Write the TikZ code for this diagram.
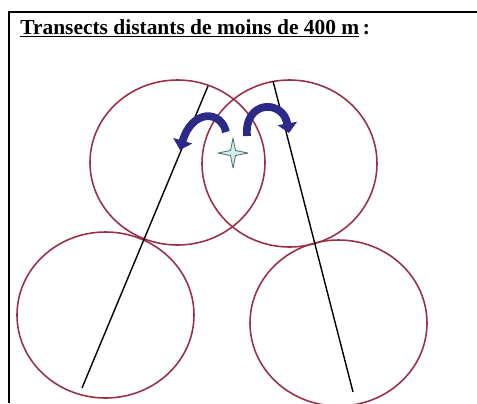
\documentclass[tikz,border=0pt]{standalone}
\usepackage{fontspec}
\setmainfont{Liberation Serif}
\usetikzlibrary{arrows.meta}
\definecolor{colzone}{HTML}{9A3048}
\definecolor{colturn}{HTML}{2C2A88}
\definecolor{colspot}{HTML}{D4F0EE}
\definecolor{colspotline}{HTML}{4F7478}

\begin{document}
\begin{tikzpicture}[
  x=0.02cm,y=-0.02cm,
  zone/.style={draw=colzone,line width=0.9pt},
  transect/.style={draw=black,line width=0.8pt},
  turn/.style={draw=colturn,line width=4.4pt,-{Triangle[length=5.5pt,width=11pt]}},
  spot/.style={draw=colspotline,fill=colspot,line width=0.5pt,line join=round},
  frame/.style={line width=1.2pt},
]
  \useasboundingbox (0,0) rectangle (477,403);
  % ---------------- cadre ----------------
  \draw[frame] (9,403) -- (9,12) -- (477,12);
  \node[anchor=base west,inner sep=0pt,font=\fontsize{12.2}{14}\selectfont\bfseries] (titre)
    at (20,34) {\underline{Transects distants de moins de 400 m}\,:};
  % ---------------- cercles ----------------
  \coordinate (c1) at (177.5,162.5);
  \coordinate (c2) at (289.5,163.5);
  \coordinate (c3) at (105.5,315);
  \coordinate (c4) at (338.5,323);
  \draw[zone] (c1) circle[x radius=87.5,y radius=82.5];
  \draw[zone] (c2) circle[x radius=87.5,y radius=83.5];
  \draw[zone] (c3) circle[x radius=88.5,y radius=83];
  \draw[zone] (c4) circle[x radius=88.5,y radius=83];
  % ---------------- transects ----------------
  \coordinate (t1a) at (208,86);  \coordinate (t1b) at (82,388);
  \coordinate (t2a) at (273,81);  \coordinate (t2b) at (353,392);
  \draw[transect] (t1a) -- (t1b);
  \draw[transect] (t2a) -- (t2b);
  % ---------------- demi-tours ----------------
  \coordinate (g1) at (226,132); \coordinate (g2) at (180,150);
  \draw[turn] (g1) .. controls (221,110) and (192,109) .. (g2);
  \coordinate (d1) at (247,136); \coordinate (d2) at (289,133);
  \draw[turn] (d1) .. controls (244,100) and (283,99) .. (d2);
  % ---------------- point ----------------
  \coordinate (pt) at (233,153);
  \draw[spot] (233,138) -- (235.5,150.5) -- (248,153) -- (235.5,155.5)
    -- (233,168) -- (230.5,155.5) -- (218,153) -- (230.5,150.5) -- cycle;
\end{tikzpicture}
\end{document}
